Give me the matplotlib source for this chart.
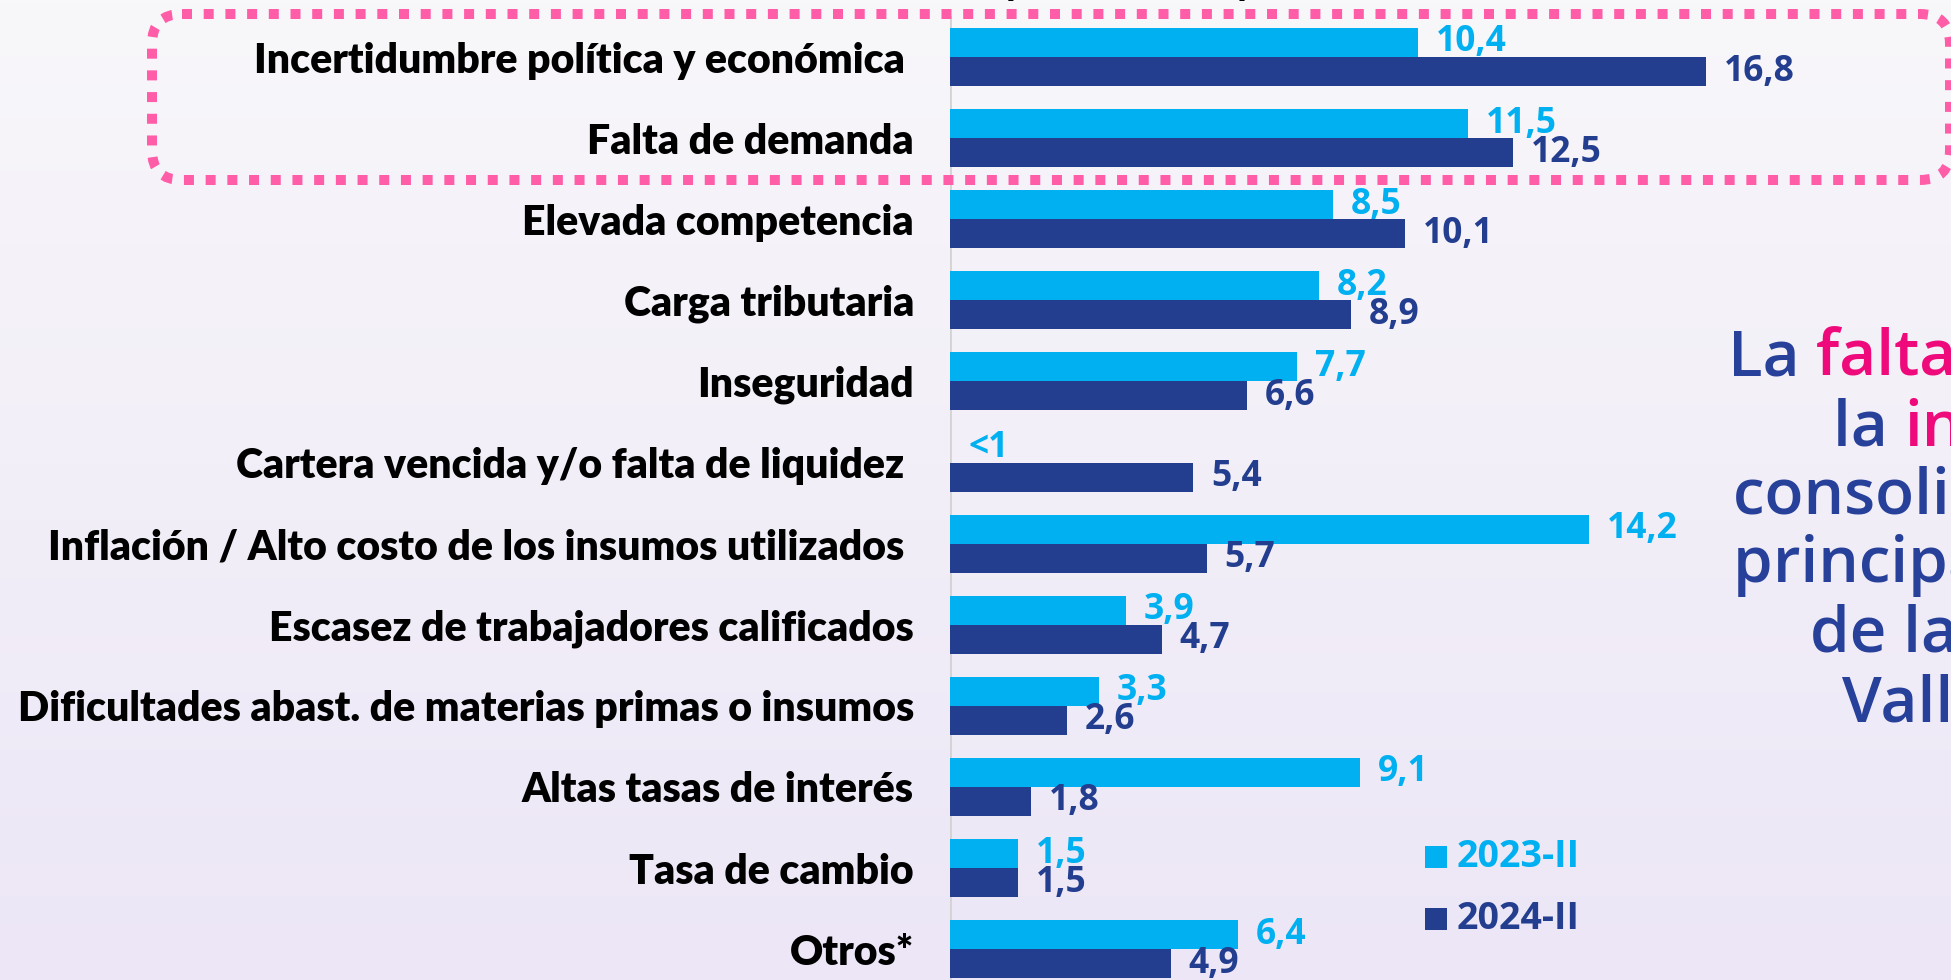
import matplotlib
matplotlib.use("Agg")
import matplotlib.pyplot as plt
import numpy as np
from matplotlib.patches import FancyBboxPatch, Rectangle
from matplotlib.transforms import Affine2D

# ---------------- data ----------------
categories = [
    "Incertidumbre política y económica ",
    "Falta de demanda",
    "Elevada competencia",
    "Carga tributaria",
    "Inseguridad",
    "Cartera vencida y/o falta de liquidez ",
    "Inflación / Alto costo de los insumos utilizados ",
    "Escasez de trabajadores calificados",
    "Dificultades abast. de materias primas o insumos",
    "Altas tasas de interés",
    "Tasa de cambio",
    "Otros*",
]
v2023 = [10.4, 11.5, 8.5, 8.2, 7.7, None, 14.2, 3.9, 3.3, 9.1, 1.5, 6.4]
v2024 = [16.8, 12.5, 10.1, 8.9, 6.6, 5.4, 5.7, 4.7, 2.6, 1.8, 1.5, 4.9]
series_names = ["2023-II", "2024-II"]
small_label = "<1"

# ---------------- style ----------------
W, H = 1951, 980
DPI = 100
C_LIGHT = "#00B0F0"
C_DARK = "#233D8F"
C_PINK = "#EE0A7B"
C_BOX = "#FF5DA8"
C_TXT = "#27409A"

fig = plt.figure(figsize=(W / DPI, H / DPI), dpi=DPI)

def fx(px):
    return px / W

def fy(py):  # py measured from top
    return 1 - py / H

# background gradient
bg = fig.add_axes([0, 0, 1, 1], zorder=-10)
top = np.array([248, 247, 250]) / 255
bot = np.array([236, 230, 246]) / 255
t = np.linspace(0, 1, 256)[:, None]
grad = top[None, :] * (1 - t) + bot[None, :] * t
bg.imshow(grad[:, None, :], aspect="auto", extent=[0, 1, 0, 1])
bg.set_axis_off()

# main axes: x from px 950 to right edge, full height
x0_px = 950
unit_px = 45.0
ax = fig.add_axes([fx(x0_px), 0, 1 - fx(x0_px), 1])
ax.patch.set_alpha(0)
pitch = 81.1
c0 = 57.0
ax.set_xlim(0, (W - x0_px) / unit_px)
ax.set_ylim((H - c0) / pitch, -c0 / pitch)
for s in ax.spines.values():
    s.set_visible(False)
ax.set_xticks([])
ax.set_yticks([])

n = len(categories)
y = np.arange(n)
bh = 29.0 / pitch
a_vals = [v if v is not None else 0 for v in v2023]
b1 = ax.barh(y - bh / 2, a_vals, height=bh, color=C_LIGHT, zorder=3)
b2 = ax.barh(y + bh / 2, v2024, height=bh, color=C_DARK, zorder=3)
ax.axvline(0, color="#D3D3D3", lw=2, zorder=2, ymax=1 - 17 / H)

def fmt(v):
    return small_label if v is None else f"{v:.1f}".replace(".", ",")

vfont = dict(family="Open Sans", fontweight="bold", fontsize=25.5)
ax.bar_label(b1, labels=[fmt(v) for v in v2023], padding=13, color=C_LIGHT, **vfont)
ax.bar_label(b2, labels=[fmt(v) for v in v2024], padding=13, color=C_DARK, **vfont)

# category labels, right aligned at px 914
fig.canvas.draw()
r = fig.canvas.get_renderer()
probe = fig.text(0, 0, categories[8], family="Lato", fontweight="heavy", fontsize=27)
wpx = probe.get_window_extent(r).width
probe.remove()
cat_fs = 27 * 899 / wpx
for i, c in enumerate(categories):
    fig.text(fx(914), fy(c0 + pitch * i), c, ha="right", va="center_baseline",
             family="Lato", fontweight="heavy", fontsize=cat_fs, color="black")

# partially visible subtitle at top (only the bottom of the parentheses shows)
fig.text(fx(1126), fy(-5), "(% del total)", ha="center", va="baseline",
         family="Open Sans", fontweight="bold", fontsize=30, color="black")

# pink dotted rounded box, in pixel space
pix = Affine2D().scale(1, -1).translate(0, H)
box = FancyBboxPatch((152, 14), 1950 - 152, 180 - 14,
                     boxstyle="round,pad=0,rounding_size=30",
                     transform=pix, fill=False, edgecolor=C_BOX, lw=7.2,
                     linestyle=(0, (1.0, 1.17)), zorder=5)
fig.add_artist(box)

# legend
leg_y = [857, 919]
for name, col, yy in zip(series_names, [C_LIGHT, C_DARK], leg_y):
    fig.add_artist(Rectangle((fx(1425), fy(yy + 11)), fx(22), 22 / H,
                             transform=fig.transFigure, color=col, lw=0))
    fig.text(fx(1457), fy(yy), name, ha="left", va="center",
             family="Open Sans", fontweight="bold", fontsize=27, color=col)

# right-side annotation text (cut off at right edge)
rfont = dict(family="Open Sans", fontsize=46, fontweight="semibold")
lines = [
    (1728, 375, [("La ", C_TXT), ("falta de demanda", C_PINK), (" y", C_TXT)]),
    (1833, 445, [("la ", C_TXT), ("incertidumbre", C_PINK), (" se", C_TXT)]),
    (1733, 513, [("consolidan como los", C_TXT)]),
    (1733, 582, [("principales problemas", C_TXT)]),
    (1810, 652, [("de la industria del", C_TXT)]),
    (1842, 722, [("Valle del Cauca", C_TXT)]),
]
for xs, yb, segs in lines:
    xcur = xs
    for s, col in segs:
        tt = fig.text(fx(xcur), fy(yb), s, ha="left", va="baseline", color=col, **rfont)
        xcur += tt.get_window_extent(r).width

fig.savefig("out.png", dpi=DPI)
